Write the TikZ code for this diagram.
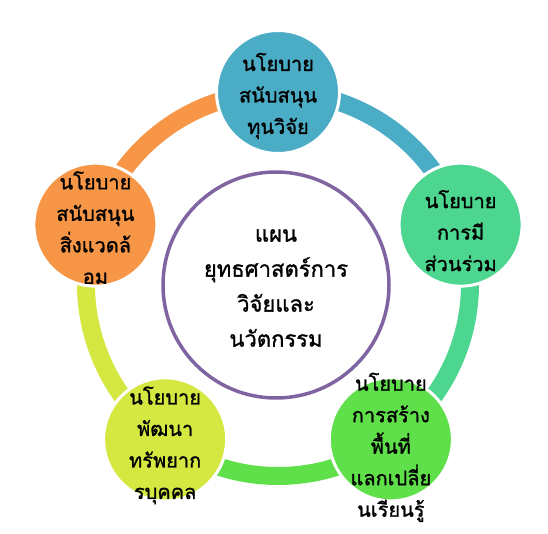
\documentclass[tikz,border=0pt]{standalone}
\usepackage{fontspec}
\newfontfamily\thaifont[Script=Thai, FakeBold=1.2]{Loma}
\definecolor{polblue}{HTML}{4BACC6}
\definecolor{polmint}{HTML}{4CD68F}
\definecolor{polgreen}{HTML}{5FE04A}
\definecolor{pollime}{HTML}{D4E841}
\definecolor{polorange}{HTML}{F79646}
\definecolor{planpurple}{HTML}{8064A2}
\tikzset{
  bubble/.style={circle, minimum size=123pt, inner sep=0pt, draw=white, line width=3pt},
  bubbletext/.style={align=center, font=\thaifont\fontsize{20}{31.5}\selectfont, inner sep=0pt},
  ringarc/.style={line width=18pt},
}
\begin{document}
\begin{tikzpicture}[x=1pt, y=1pt]
  \useasboundingbox (0, 0) rectangle (548, -534);
  \coordinate (ring) at (278, -284);

  %% 中心の円
  \node[circle, minimum size=226pt, draw=planpurple, line width=3.5pt,
        align=center, font=\thaifont\fontsize{22}{35}\selectfont] (plan) at (276, -285)
    {};
  \node[align=center, font=\thaifont\fontsize{22}{35}\selectfont, inner sep=0pt]
    (plantxt) at ([yshift=-3pt]plan) {แผน\\ยุทธศาสตร์การ\\วิจัยและ\\นวัตกรรม};

  %% 円弧（各色）
  \draw[ringarc, polblue]   ([shift={(ring)}]75:192)  arc[start angle=75,  end angle=33,   radius=192];
  \draw[ringarc, polmint]   ([shift={(ring)}]3:192)   arc[start angle=3,   end angle=-39,  radius=192];
  \draw[ringarc, polgreen]  ([shift={(ring)}]-69:192) arc[start angle=-69, end angle=-111, radius=192];
  \draw[ringarc, pollime]   ([shift={(ring)}]-141:192) arc[start angle=-141, end angle=-183, radius=192];
  \draw[ringarc, polorange] ([shift={(ring)}]147:192) arc[start angle=147, end angle=105,  radius=192];

  %% 外側の円
  \node[bubble, fill=polblue]   (fund)   at ([shift={(ring)}]90:192)   {};
  \node[bubble, fill=polmint]   (part)   at ([shift={(ring)}]18:192)   {};
  \node[bubble, fill=polgreen]  (space)  at ([shift={(ring)}]-54:192)  {};
  \node[bubble, fill=pollime]   (human)  at ([shift={(ring)}]-126:192) {};
  \node[bubble, fill=polorange] (env)    at ([shift={(ring)}]162:192)  {};

  %% 文字
  \node[bubbletext] (fundtxt)  at ([yshift=-4pt]fund)  {นโยบาย\\สนับสนุน\\ทุนวิจัย};
  \node[bubbletext] (parttxt)  at ([yshift=-6pt]part)  {นโยบาย\\การมี\\ส่วนร่วม};
  \node[bubbletext] (spacetxt) at ([yshift=-8pt]space) {นโยบาย\\การสร้าง\\พื้นที่\\แลกเปลี่ย\\นเรียนรู้};
  \node[bubbletext] (humantxt) at ([yshift=-6pt]human) {นโยบาย\\พัฒนา\\ทรัพยาก\\รบุคคล};
  \node[bubbletext] (envtxt)   at ([yshift=-3pt]env)   {นโยบาย\\สนับสนุน\\สิ่งแวดล้\\อม};
\end{tikzpicture}
\end{document}
